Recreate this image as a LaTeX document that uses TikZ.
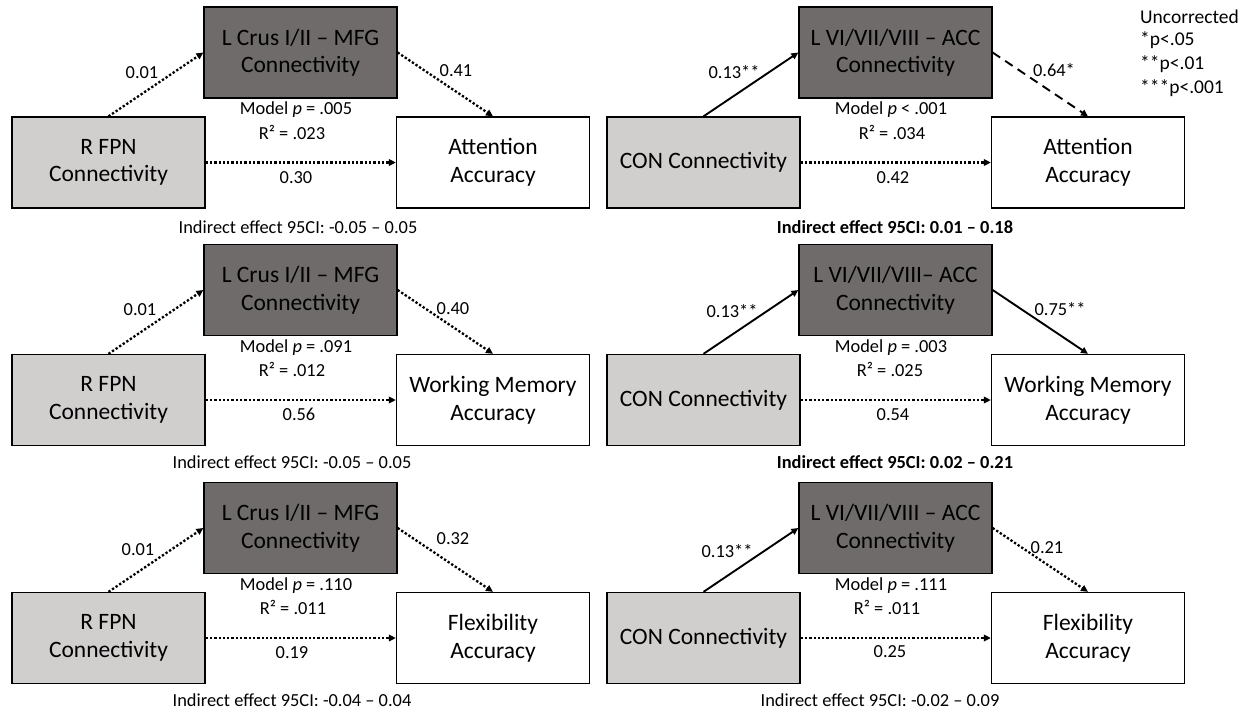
\documentclass[tikz,border=0pt]{standalone}
\usepackage{fontspec}
\setmainfont{Carlito}
\usetikzlibrary{arrows.meta}
\definecolor{medgray}{RGB}{111,107,107}
\definecolor{predgray}{RGB}{209,206,206}
\begin{document}
\begin{tikzpicture}[x=1pt,y=-1pt,
	box/.style={draw=black,line width=1.3pt,minimum width=193pt,minimum height=91pt,inner sep=0pt,align=center,font=\fontsize{23.5}{27.5}\selectfont},
	medbox/.style={box,fill=medgray},
	predbox/.style={box,fill=predgray},
	outbox/.style={box,fill=white},
	lab/.style={inner sep=0pt,font=\fontsize{18.4}{22}\selectfont},
	key/.style={inner sep=0pt,anchor=west,font=\fontsize{19.5}{23}\selectfont},
	path/.style={line width=1.9pt,-{Triangle[length=7pt,width=6.5pt]}},
	dotarrow/.style={path,line width=2.3pt,dash pattern=on 2.3pt off 2pt},
	solidarrow/.style={path},
	dasharrow/.style={path,dash pattern=on 9pt off 6pt}]
		\useasboundingbox (0,0) rectangle (1257,710);
		% attention, FPN
		\begin{scope}
		\node[predbox] (p1) at (108.5,162.5) {R FPN\\Connectivity};
		\node[medbox] (m1) at (300.5,52.5) {L Crus I/II -- MFG\\Connectivity};
		\node[outbox] (o1) at (493,162.5) {Attention\\Accuracy};
		\draw[dotarrow] (p1.north) -- (m1.west);
		\draw[dotarrow] (m1.east) -- (o1.north);
		\draw[dotarrow] (p1.east) -- (o1.west);
		\node[lab] (a1) at (142,73) {0.01};
		\node[lab] (b1) at (456,71) {0.41};
		\node[lab] (c1) at (296,178) {0.30};
		\node[lab] (mp1) at (296,110) {Model \textit{p} = .005};
		\node[lab] (r1) at (292,132) {R² = .023};
		\node[lab] (ie1) at (298,227) {Indirect effect 95CI: -0.05 -- 0.05};
		\end{scope}
		% attention, CON
		\begin{scope}[shift={(595,0)}]
		\node[predbox] (p2) at (108.5,162.5) {CON Connectivity};
		\node[medbox] (m2) at (300.5,52.5) {L VI/VII/VIII -- ACC\\Connectivity};
		\node[outbox] (o2) at (493,162.5) {Attention\\Accuracy};
		\draw[solidarrow] (p2.north) -- (m2.west);
		\draw[dasharrow] (m2.east) -- (o2.north);
		\draw[dotarrow] (p2.east) -- (o2.west);
		\node[lab] (a2) at (139,72) {0.13**};
		\node[lab] (b2) at (459,70) {0.64*};
		\node[lab] (c2) at (298,178) {0.42};
		\node[lab] (mp2) at (296,110) {Model \textit{p} < .001};
		\node[lab] (r2) at (297,132) {R² = .034};
		\node[lab] (ie2) at (300,227) {\bfseries Indirect effect 95CI: 0.01 -- 0.18};
		\end{scope}
		% working memory, FPN
		\begin{scope}[shift={(0,237.5)}]
		\node[predbox] (p3) at (108.5,162.5) {R FPN\\Connectivity};
		\node[medbox] (m3) at (300.5,52.5) {L Crus I/II -- MFG\\Connectivity};
		\node[outbox] (o3) at (493,162.5) {Working Memory\\Accuracy};
		\draw[dotarrow] (p3.north) -- (m3.west);
		\draw[dotarrow] (m3.east) -- (o3.north);
		\draw[dotarrow] (p3.east) -- (o3.west);
		\node[lab] (a3) at (140,72) {0.01};
		\node[lab] (b3) at (453,71) {0.40};
		\node[lab] (c3) at (299,177) {0.56};
		\node[lab] (mp3) at (296,110) {Model \textit{p} = .091};
		\node[lab] (r3) at (292,132) {R² = .012};
		\node[lab] (ie3) at (292,225) {Indirect effect 95CI: -0.05 -- 0.05};
		\end{scope}
		% working memory, CON
		\begin{scope}[shift={(595,237.5)}]
		\node[predbox] (p4) at (108.5,162.5) {CON Connectivity};
		\node[medbox] (m4) at (300.5,52.5) {L VI/VII/VIII-- ACC\\Connectivity};
		\node[outbox] (o4) at (493,162.5) {Working Memory\\Accuracy};
		\draw[solidarrow] (p4.north) -- (m4.west);
		\draw[solidarrow] (m4.east) -- (o4.north);
		\draw[dotarrow] (p4.east) -- (o4.west);
		\node[lab] (a4) at (137,74) {0.13**};
		\node[lab] (b4) at (465,72) {0.75**};
		\node[lab] (c4) at (298,177) {0.54};
		\node[lab] (mp4) at (296,110) {Model \textit{p} = .003};
		\node[lab] (r4) at (295,132) {R² = .025};
		\node[lab] (ie4) at (300,225) {\bfseries Indirect effect 95CI: 0.02 -- 0.21};
		\end{scope}
		% flexibility, FPN
		\begin{scope}[shift={(0,475.5)}]
		\node[predbox] (p5) at (108.5,162.5) {R FPN\\Connectivity};
		\node[medbox] (m5) at (300.5,52.5) {L Crus I/II -- MFG\\Connectivity};
		\node[outbox] (o5) at (493,162.5) {Flexibility\\Accuracy};
		\draw[dotarrow] (p5.north) -- (m5.west);
		\draw[dotarrow] (m5.east) -- (o5.north);
		\draw[dotarrow] (p5.east) -- (o5.west);
		\node[lab] (a5) at (138,74) {0.01};
		\node[lab] (b5) at (453,63) {0.32};
		\node[lab] (c5) at (292,177) {0.19};
		\node[lab] (mp5) at (296,110) {Model \textit{p} = .110};
		\node[lab] (r5) at (293,132) {R² = .011};
		\node[lab] (ie5) at (292,225) {Indirect effect 95CI: -0.04 -- 0.04};
		\end{scope}
		% flexibility, CON
		\begin{scope}[shift={(595,475.5)}]
		\node[predbox] (p6) at (108.5,162.5) {CON Connectivity};
		\node[medbox] (m6) at (300.5,52.5) {L VI/VII/VIII -- ACC\\Connectivity};
		\node[outbox] (o6) at (493,162.5) {Flexibility\\Accuracy};
		\draw[solidarrow] (p6.north) -- (m6.west);
		\draw[dotarrow] (m6.east) -- (o6.north);
		\draw[dotarrow] (p6.east) -- (o6.west);
		\node[lab] (a6) at (132,76) {0.13**};
		\node[lab] (b6) at (452,72) {0.21};
		\node[lab] (c6) at (295,176) {0.25};
		\node[lab] (mp6) at (296,110) {Model \textit{p} = .111};
		\node[lab] (r6) at (292,132) {R² = .011};
		\node[lab] (ie6) at (285,225) {Indirect effect 95CI: -0.02 -- 0.09};
		\end{scope}
		% key
		\node[key] (k0) at (1140,17) {Uncorrected};
		\node[key] (k1) at (1140,40) {*p<.05};
		\node[key] (k2) at (1140,64) {**p<.01};
		\node[key] (k3) at (1140,88) {***p<.001};
\end{tikzpicture}
\end{document}
